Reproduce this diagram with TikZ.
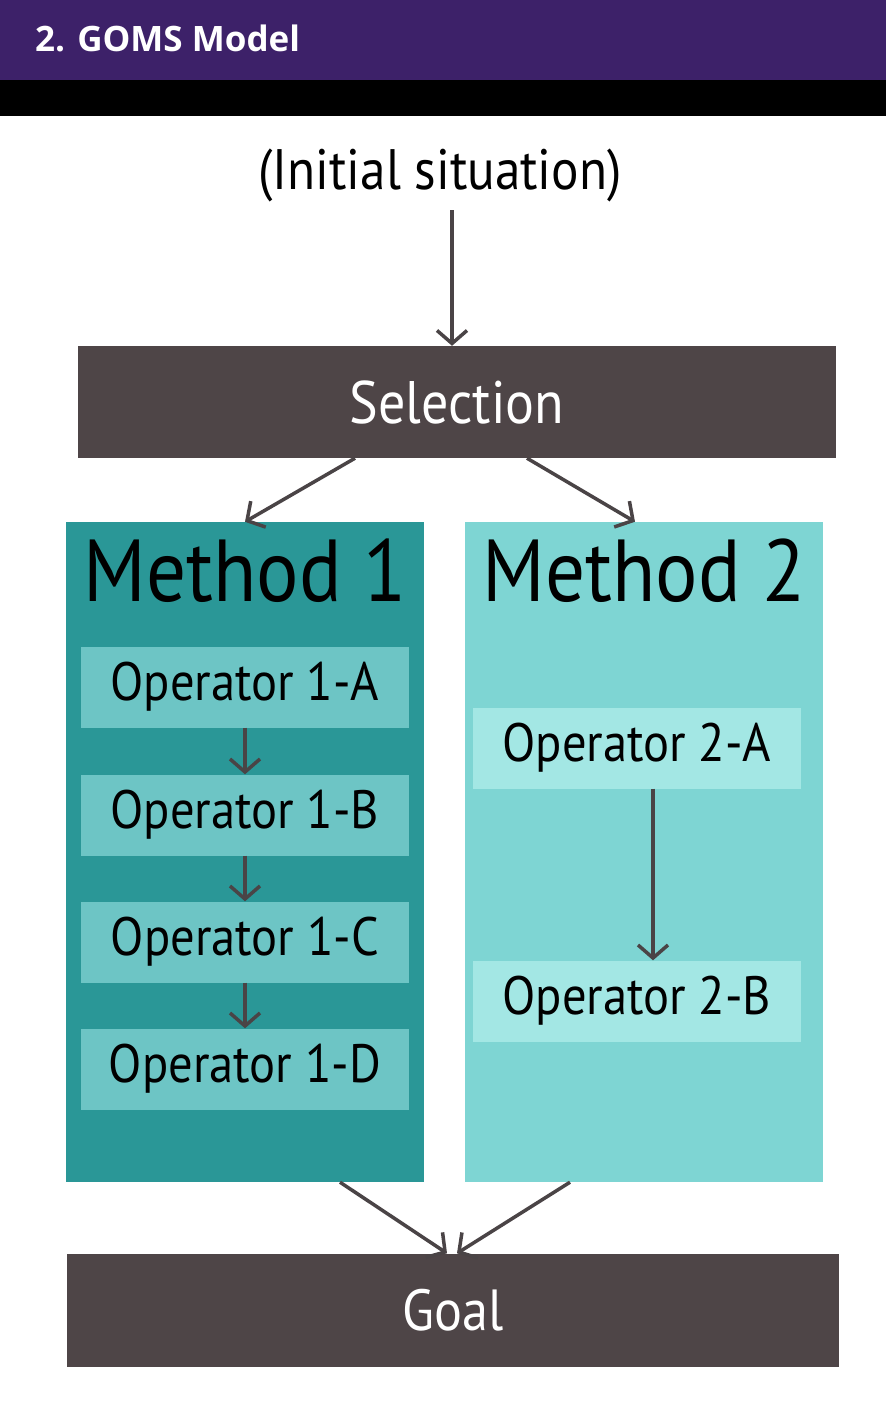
\documentclass[tikz,border=0pt]{standalone}
\usepackage{fontspec}
\usepackage{tikz}
\usetikzlibrary{arrows.meta, positioning}
\newfontfamily\ubu[FakeStretch=0.9]{PT Sans}
\newfontfamily\hdrfont{Open Sans Bold}
\definecolor{gHeader}{HTML}{3D2169}
\definecolor{gDark}{HTML}{4E4547}
\definecolor{gTeal}{HTML}{2A9797}
\definecolor{gAqua}{HTML}{7ED5D3}
\definecolor{gOpOne}{HTML}{6DC5C5}
\definecolor{gOpTwo}{HTML}{A3E7E4}
\definecolor{gArrow}{HTML}{4A4446}

\begin{document}
\begin{tikzpicture}[x=1pt, y=-1pt,
    darkbar/.style={fill=gDark, text=white, inner sep=0pt, minimum width=758pt, minimum height=112pt, font=\ubu\fontsize{60}{66}\selectfont},
    methodbox/.style={inner sep=0pt, minimum width=358pt, minimum height=660pt},
    mtitle/.style={inner sep=0pt, font=\ubu\fontsize{88}{94}\selectfont},
    opbox/.style={inner sep=0pt, minimum width=328pt, minimum height=81pt, font=\ubu\fontsize{54}{60}\selectfont},
    flow/.style={draw=gArrow, line width=3.5pt, -{Straight Barb[length=13pt, width=30pt, line width=3.5pt]}}]
    \useasboundingbox (0,0) rectangle (886,1418);
    \fill[white] (0,0) rectangle (886,1418);
    % header
    \fill[gHeader] (0,0) rectangle (886,80);
    \fill[black] (0,80) rectangle (886,116);
    \node[anchor=west, text=white, inner sep=0pt, font=\hdrfont\fontsize{35}{40}\selectfont] (title) at (35,38) {2. GOMS Model};

    \node[inner sep=0pt, font=\ubu\fontsize{57}{62}\selectfont] (init) at (440,175) {(Initial situation)};
    \coordinate (ia) at (452,210);
    \node[darkbar] (sel) at (457,402) {Selection};

    % methods
    \node[methodbox, fill=gTeal] (m1) at (245,852) {};
    \node[methodbox, fill=gAqua] (m2) at (644,852) {};
    \node[mtitle, below=17pt of m1.north] (m1t) {Method 1};
    \node[mtitle, below=17pt of m2.north] (m2t) {Method 2};

    \node[opbox, fill=gOpOne] (o1a) at (245,687) {Operator 1-A};
    \node[opbox, fill=gOpOne] (o1b) at (245,815) {Operator 1-B};
    \node[opbox, fill=gOpOne] (o1c) at (245,942) {Operator 1-C};
    \node[opbox, fill=gOpOne] (o1d) at (245,1069) {Operator 1-D};
    \node[opbox, fill=gOpTwo] (o2a) at (637,748) {Operator 2-A};
    \node[opbox, fill=gOpTwo] (o2b) at (637,1001) {Operator 2-B};

    \node[darkbar, minimum width=772pt, minimum height=113pt, font=\ubu\fontsize{58}{64}\selectfont] (goal) at (453,1310) {Goal};

    % connectors
    \draw[flow] (ia) -- (ia |- sel.north);
    \draw[flow] ([xshift=-102pt]sel.south) -- (m1.north);
    \draw[flow] ([xshift=70pt]sel.south) -- ([xshift=-9pt]m2.north);
    \foreach \a/\b in {o1a/o1b, o1b/o1c, o1c/o1d}
      \draw[flow] (\a.south) -- (\b.north);
    \draw[flow] ([xshift=16pt]o2a.south) -- ([xshift=16pt]o2b.north);
    \draw[flow] ([xshift=95pt]m1.south) -- ([xshift=-6pt]goal.north);
    \draw[flow] ([xshift=-74pt]m2.south) -- ([xshift=4pt]goal.north);
\end{tikzpicture}
\end{document}
